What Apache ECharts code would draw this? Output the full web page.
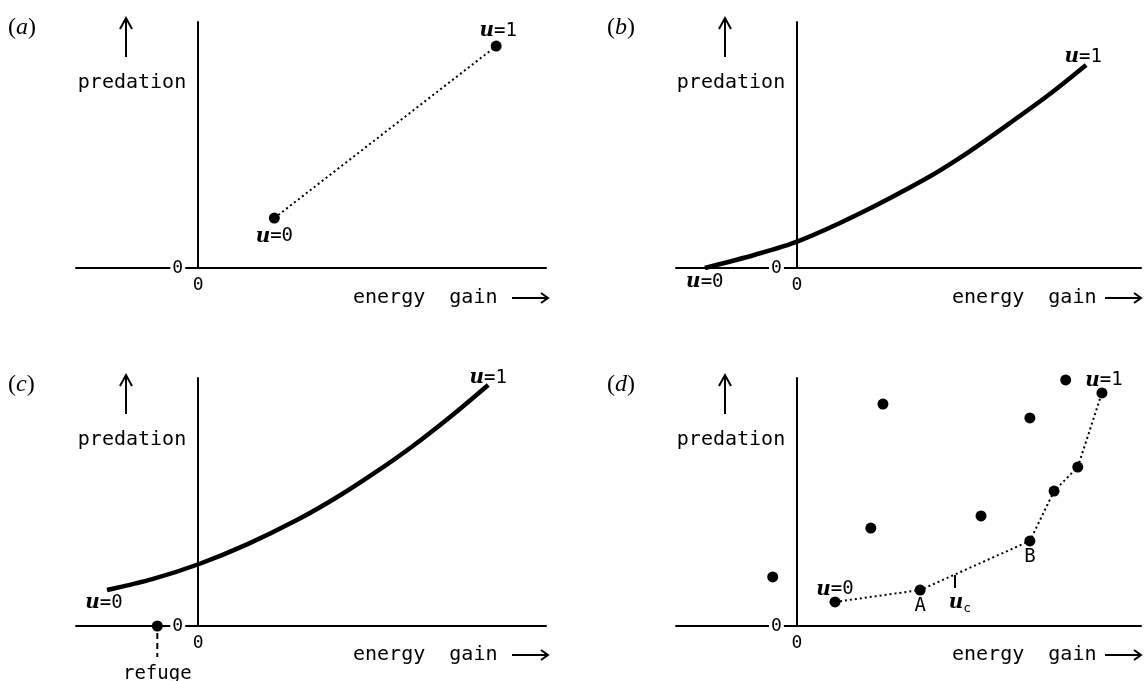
<!DOCTYPE html>
<html lang="en">
<head>
<meta charset="UTF-8">
<title>Predation against energy gain</title>
<script src="https://cdn.jsdelivr.net/npm/echarts@6/dist/echarts.min.js"></script>
<style>
  html, body { margin: 0; padding: 0; background: #fff; }
  #chart { width: 1145px; height: 681px; }
</style>
</head>
<body>
<div id="chart"></div>
<script>
var chart = echarts.init(document.getElementById('chart'));

// (a) two options, joined by a dotted line
var aX = [1.62, 6.34];
var aY = [2.03, 9.02];
var aNames = ['u=0', 'u=1'];

// (b) continuous curve that starts on the energy axis
var bX = [-1.98, -0.90, 0.02, 1.25, 2.80, 3.61, 4.58, 5.44, 6.22];
var bY = [0, 0.54, 1.08, 2.12, 3.66, 4.61, 5.89, 7.07, 8.25];

// (c) curve above zero, refuge on the axis
var cX = [-1.94, -0.96, 0.02, 1.04, 2.11, 2.96, 3.72, 4.51, 5.36, 6.17];
var cY = [1.45, 1.90, 2.50, 3.29, 4.28, 5.20, 6.13, 7.18, 8.43, 9.72];
var refugeX = -0.87;

// (d) discrete options, lower hull dotted
var dX = [-0.52, 0.82, 1.59, 1.85, 2.65, 3.96, 5.01, 5.01, 5.53, 6.04, 5.78, 6.56];
var dY = [1.98, 0.97, 3.95, 8.95, 1.45, 4.44, 3.43, 8.39, 5.44, 6.41, 9.92, 9.40];
var dNames = ['', 'u=0', '', '', 'A', '', 'B', '', '', '', '', 'u=1'];
var dHull = [1, 4, 6, 8, 9, 11];
var ucX = 3.40;

var tickLabels = ['0'];
var xMin = -2.6, xMax = 7.4;

var MONO = '"DejaVu Sans Mono", monospace';
var rich = {
    u: { fontFamily: '"DejaVu Serif", serif', fontStyle: 'italic', fontWeight: 'bold', fontSize: 20, color: '#000' },
    t: { fontFamily: MONO, fontSize: 19, color: '#000' },
    s: { fontFamily: MONO, fontSize: 13, color: '#000', padding: [12, 0, 0, 0] }
};

function labelText(name) {
    if (name.charAt(0) === 'u') return '{u|u}{t|' + name.slice(1) + '}';
    return '{t|' + name + '}';
}

function zip(xs, ys) {
    return xs.map(function (x, i) { return [x, ys[i]]; });
}

function labelled(pt, name, pos, dist, offset) {
    return {
        value: pt,
        label: {
            show: true, position: pos, distance: dist, offset: offset || [0, 0], color: '#000',
            formatter: labelText(name), rich: rich
        }
    };
}

// grids: a, b, c, d
var grids = [
    { left: 76, top: 22, width: 470, height: 246 },
    { left: 676, top: 22, width: 465, height: 246 },
    { left: 76, top: 378, width: 470, height: 248 },
    { left: 676, top: 378, width: 465, height: 248 }
];

var zeroLabel = function (v) { return v === 0 ? tickLabels[0] : ''; };

var xAxes = grids.map(function (g, i) {
    return {
        type: 'value', gridIndex: i, min: xMin, max: xMax, z: 1,
        axisLine: { onZero: false, lineStyle: { color: '#000', width: 2 } },
        axisTick: { show: false },
        splitLine: { show: false },
        axisLabel: { formatter: zeroLabel, margin: 8, color: '#000', fontFamily: MONO, fontSize: 18 }
    };
});
// y axis sits at energy gain = 0, shifted in from the grid's left edge
var yAxes = grids.map(function (g, i) {
    return {
        type: 'value', gridIndex: i, min: 0, max: 10, z: 3,
        offset: -(0 - xMin) / (xMax - xMin) * g.width,
        axisLine: { onZero: false, lineStyle: { color: '#000', width: 2 } },
        axisTick: { show: false },
        splitLine: { show: false },
        axisLabel: {
            formatter: zeroLabel, margin: 13, color: '#000', fontFamily: MONO, fontSize: 18,
            backgroundColor: '#fff', padding: [0, 2]
        }
    };
});

var dotted = { color: '#000', width: 2, type: [2, 3] };
var thick = { color: '#000', width: 4.5 };
var dot = { color: '#000', opacity: 1 };

var series = [
    // (a)
    { type: 'line', xAxisIndex: 0, yAxisIndex: 0, data: zip(aX, aY), symbol: 'none', lineStyle: dotted },
    {
        type: 'scatter', xAxisIndex: 0, yAxisIndex: 0, symbolSize: 11, itemStyle: dot,
        data: [
            labelled([aX[0], aY[0]], aNames[0], 'bottom', 3),
            labelled([aX[1], aY[1]], aNames[1], 'top', 0, [2, 0])
        ]
    },
    // (b)
    {
        type: 'line', xAxisIndex: 1, yAxisIndex: 1, data: zip(bX, bY), smooth: 0.3,
        symbol: 'none', lineStyle: thick
    },
    {
        type: 'scatter', xAxisIndex: 1, yAxisIndex: 1, symbolSize: 0, clip: false, itemStyle: dot,
        data: [
            labelled([bX[0], bY[0]], 'u=0', 'bottom', 4),
            labelled([bX[bX.length - 1], bY[bY.length - 1]], 'u=1', 'top', -2, [-3, 0])
        ]
    },
    // (c)
    {
        type: 'line', xAxisIndex: 2, yAxisIndex: 2, data: zip(cX, cY), smooth: 0.3,
        symbol: 'none', lineStyle: thick
    },
    {
        type: 'line', xAxisIndex: 2, yAxisIndex: 2, clip: false, symbol: 'none',
        data: [[refugeX, -0.28], [refugeX, -1.25]],
        lineStyle: { color: '#000', width: 2, type: [6, 4] }
    },
    {
        type: 'scatter', xAxisIndex: 2, yAxisIndex: 2, symbolSize: 0, clip: false, itemStyle: dot,
        data: [
            labelled([cX[0], cY[0]], 'u=0', 'bottom', 3, [-3, 0]),
            labelled([cX[cX.length - 1], cY[cY.length - 1]], 'u=1', 'top', -3),
            labelled([refugeX, -1.25], 'refuge', 'bottom', 8)
        ]
    },
    {
        type: 'scatter', xAxisIndex: 2, yAxisIndex: 2, symbolSize: 11, clip: false, z: 5,
        itemStyle: dot, data: [[refugeX, 0]]
    },
    // (d)
    {
        type: 'line', xAxisIndex: 3, yAxisIndex: 3, symbol: 'none', lineStyle: dotted,
        data: dHull.map(function (i) { return [dX[i], dY[i]]; })
    },
    {
        type: 'line', xAxisIndex: 3, yAxisIndex: 3, symbol: 'none',
        lineStyle: { color: '#000', width: 2 },
        data: [[ucX, 2.06], [ucX, 1.53]]
    },
    {
        type: 'scatter', xAxisIndex: 3, yAxisIndex: 3, symbolSize: 0, itemStyle: dot,
        data: [labelled([ucX, 1.53], 'u_c', 'bottom', 2, [5, 0])].map(function (d) {
            d.label.formatter = '{u|u}{s|c}';
            return d;
        })
    },
    {
        type: 'scatter', xAxisIndex: 3, yAxisIndex: 3, symbolSize: 11, itemStyle: dot,
        data: dX.map(function (x, i) {
            var n = dNames[i];
            if (!n) return [x, dY[i]];
            var pos = (n === 'A' || n === 'B') ? 'bottom' : 'top';
            return labelled([x, dY[i]], n, pos, pos === 'top' ? -3 : 1, n === 'u=1' ? [2, 0] : [0, 0]);
        })
    }
];

// panel decorations: letters, axis titles, arrows
var panels = [
    { dx: 0, dy: 0, letter: 'a', arrowEnd: 548 },
    { dx: 599, dy: 0, letter: 'b', arrowEnd: 1141 },
    { dx: 0, dy: 357, letter: 'c', arrowEnd: 548 },
    { dx: 599, dy: 357, letter: 'd', arrowEnd: 1141 }
];
var ink = { stroke: '#000', lineWidth: 2, fill: null };
var graphic = [];
panels.forEach(function (p) {
    var dx = p.dx, dy = p.dy, ae = p.arrowEnd;
    graphic.push(
        {
            type: 'text', x: 8 + dx, y: 28 + dy,
            style: {
                text: '{p|(}{i|' + p.letter + '}{p|)}', align: 'left', verticalAlign: 'middle', fill: '#000',
                rich: {
                    p: { fontFamily: '"Liberation Serif", serif', fontSize: 24 },
                    i: { fontFamily: '"Liberation Serif", serif', fontStyle: 'italic', fontSize: 24 }
                }
            }
        },
        { type: 'line', shape: { x1: 126 + dx, y1: 57 + dy, x2: 126 + dx, y2: 20 + dy }, style: ink },
        { type: 'polyline', shape: { points: [[120 + dx, 29 + dy], [126 + dx, 18 + dy], [132 + dx, 29 + dy]] }, style: ink },
        {
            type: 'text', x: 132 + dx, y: 83 + dy,
            style: { text: 'predation', font: '20px ' + MONO, fill: '#000', align: 'center', verticalAlign: 'middle' }
        },
        {
            type: 'text', x: 353 + dx, y: 298 + dy,
            style: { text: 'energy  gain', font: '20px ' + MONO, fill: '#000', align: 'left', verticalAlign: 'middle' }
        },
        { type: 'line', shape: { x1: ae - 36, y1: 298 + dy, x2: ae, y2: 298 + dy }, style: ink },
        { type: 'polyline', shape: { points: [[ae - 7, 293 + dy], [ae, 298 + dy], [ae - 7, 303 + dy]] }, style: ink }
    );
});

chart.setOption({
    backgroundColor: '#fff',
    animation: false,
    grid: grids.map(function (g) { g.outerBoundsMode = 'none'; return g; }),
    xAxis: xAxes,
    yAxis: yAxes,
    series: series,
    graphic: graphic
});
</script>
</body>
</html>
